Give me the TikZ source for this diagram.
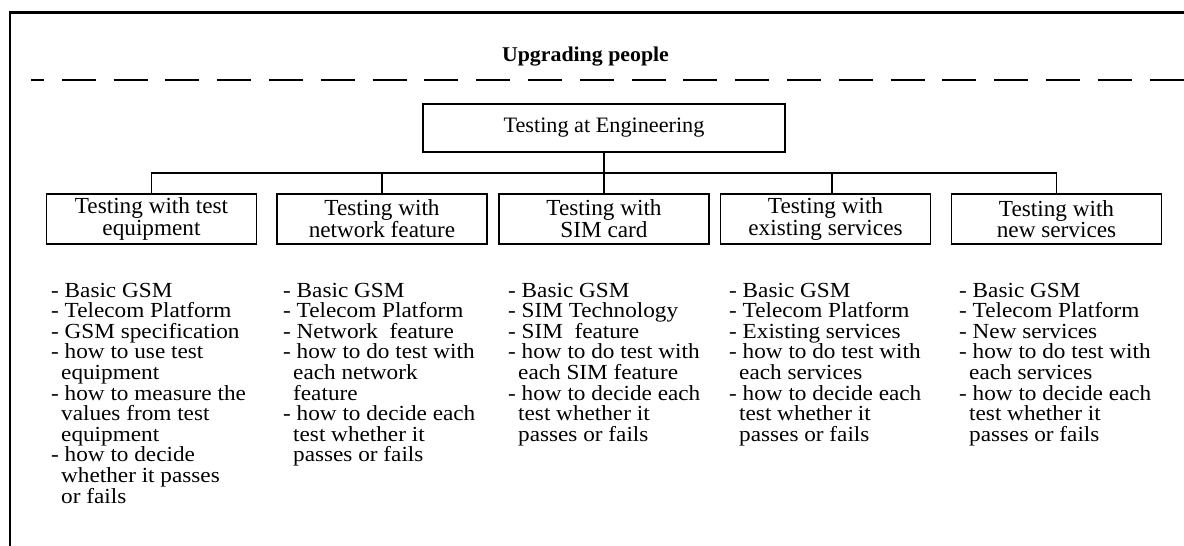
\documentclass[tikz,border=0pt]{standalone}
\usepackage{fontspec}
\setmainfont{Liberation Serif}
\newfontfamily\listfam{Liberation Serif}[FakeStretch=1.08]
\newfontfamily\boxfam{Liberation Serif}[FakeStretch=1.01]
\newfontfamily\titlefam{Liberation Serif}[FakeStretch=1.04]
\newcommand{\itemlist}[1]{\parbox[t]{220pt}{\listfam\fontsize{21.5}{20.6}\selectfont\raggedright #1}}
\newcommand{\cont}{\hspace*{10pt}}
\begin{document}
\begin{tikzpicture}[x=1pt,y=-1pt,
  frame/.style={line width=2.6pt},
  sepline/.style={line width=2.8pt, dash pattern=on 34pt off 17.8pt, dash phase=21pt},
  topbox/.style={draw, line width=1.2pt, minimum width=362pt, minimum height=48pt, inner sep=0pt, align=center, font=\boxfam\fontsize{22}{20}\selectfont},
  subbox/.style={draw, line width=1.2pt, minimum width=210pt, minimum height=50pt, inner sep=0pt, align=center, font=\boxfam\fontsize{23}{20}\selectfont},
  link/.style={line width=1.1pt},
  listnode/.style={anchor=base west, inner sep=0pt}
]
\useasboundingbox (0,0) rectangle (1184,546);
% frame
\coordinate (fbl) at (10,546);
\coordinate (ftl) at (10,12.5);
\coordinate (ftr) at (1184,12.5);
\draw[frame] (fbl) -- (ftl) -- (ftr);
% title and separator
\node[anchor=base, inner sep=0pt, font=\titlefam\bfseries\fontsize{21}{24}\selectfont] (title) at (585.5,61) {Upgrading people};
\coordinate (dl) at (31,80);
\coordinate (dr) at (1184,80);
\draw[sepline] (dl) -- (dr);
% boxes
\node[topbox] (top) at (604,128) {Testing at Engineering};
\node[subbox] (b1) at (151.5,219) {Testing with test\\equipment};
\node[subbox] (b2) at (382,219) {Testing with\\network feature};
\node[subbox] (b3) at (604,219) {Testing with\\SIM card};
\node[subbox] (b4) at (825.5,219) {Testing with\\existing services};
\node[subbox] (b5) at (1056.5,219) {Testing with\\new services};
% connectors
\coordinate (bus) at (0,173);
\coordinate (b4top) at ([xshift=6.5pt]b4.north);
\draw[link] (top.south) -- (b3.north);
\draw[link] (b1.north) -- (b1.north |- bus) -- (b5.north |- bus) -- (b5.north);
\draw[link] (b2.north) -- (b2.north |- bus);
\draw[link] (b4top) -- (b4top |- bus);
% lists
\node[listnode] (l1) at (51,297) {\itemlist{- Basic GSM\\- Telecom Platform\\- GSM specification\\- how to use test\\\cont equipment\\- how to measure the\\\cont values from test\\\cont equipment\\- how to decide\\\cont whether it passes\\\cont or fails}};
\node[listnode] (l2) at (283,297) {\itemlist{- Basic GSM\\- Telecom Platform\\- Network~ feature\\- how to do test with\\\cont each network\\\cont feature\\- how to decide each\\\cont test whether it\\\cont passes or fails}};
\node[listnode] (l3) at (508,297) {\itemlist{- Basic GSM\\- SIM Technology\\- SIM~ feature\\- how to do test with\\\cont each SIM feature\\- how to decide each\\\cont test whether it\\\cont passes or fails}};
\node[listnode] (l4) at (729,297) {\itemlist{- Basic GSM\\- Telecom Platform\\- Existing services\\- how to do test with\\\cont each services\\- how to decide each\\\cont test whether it\\\cont passes or fails}};
\node[listnode] (l5) at (959,297) {\itemlist{- Basic GSM\\- Telecom Platform\\- New services\\- how to do test with\\\cont each services\\- how to decide each\\\cont test whether it\\\cont passes or fails}};
\end{tikzpicture}
\end{document}
